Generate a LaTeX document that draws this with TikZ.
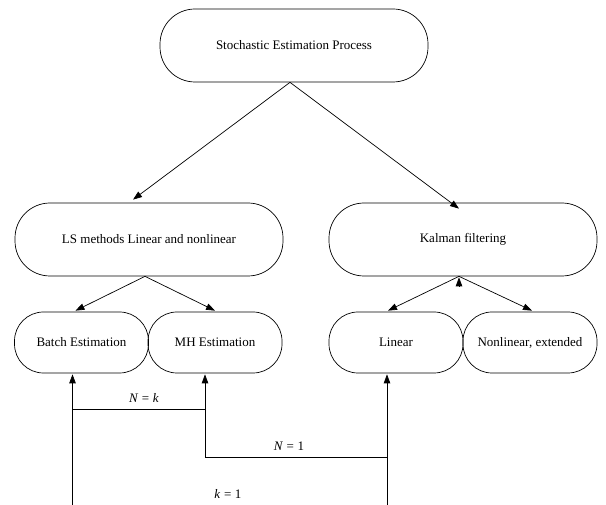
\documentclass[tikz,border=0pt]{standalone}
\usepackage{fontspec}
\setmainfont{Liberation Serif}
\usetikzlibrary{arrows.meta,calc}
\begin{document}
\begin{tikzpicture}[x=1pt,y=-1pt,
  bigbox/.style={draw,line width=0.7pt,rounded corners=35pt,minimum width=268pt,minimum height=73pt,inner sep=0pt,font=\fontsize{13}{15}\selectfont},
  smallbox/.style={draw,line width=0.7pt,rounded corners=29pt,minimum width=134pt,minimum height=61pt,inner sep=0pt,font=\fontsize{13}{15}\selectfont},
  arr/.style={line width=0.7pt,-{Triangle[length=9pt,width=6.5pt]}},
  ln/.style={line width=0.7pt},
  lbl/.style={inner sep=0pt,font=\fontsize{13}{15}\selectfont}]
\useasboundingbox (0,0) rectangle (606,505);
\node[bigbox] (top) at (294,45.5) {Stochastic Estimation Process};
\node[bigbox] (ls) at (149,239.5) {LS methods Linear and nonlinear};
\node[bigbox] (kal) at (463,239.5) {Kalman filtering};
\node[smallbox] (batch) at (81.5,342.5) {Batch Estimation};
\node[smallbox] (mh) at (215,342.5) {MH Estimation};
\node[smallbox] (lin) at (396,342.5) {Linear};
\node[smallbox] (nl) at (530,342.5) {Nonlinear, extended};
% top arrows
\draw[arr] ($(top.south)+(-4,0)$) -- ($(ls.north)+(-16,-3)$);
\draw[arr] ($(top.south)+(-4,0)$) -- ($(kal.north)+(-4,6)$);
% LS arrows
\draw[arr] ($(ls.south)+(-4,0)$) -- ($(batch.north)+(-6,-1)$);
\draw[arr] ($(ls.south)+(-4,0)$) -- ($(mh.north)+(0,-1)$);
% Kalman arrows
\draw[arr] ($(kal.south)+(-4,0)$) -- ($(lin.north)+(-8,-1)$);
\draw[arr] ($(kal.south)+(-4,0)$) -- ($(nl.north)+(2,-1)$);
\draw[arr] ($(kal.south)+(-4,10)$) -- ($(kal.south)+(-4,1)$);
% bottom connectors
\coordinate (bB) at (72.5,505);
\coordinate (lB) at (387,505);
\coordinate (nkL) at (72.5,409);
\coordinate (nkR) at (205,409);
\coordinate (n1L) at (205,457);
\coordinate (n1R) at (387,457);
\draw[arr] (bB) -- ($(batch.south -| bB)+(0,1)$);
\draw[arr] (lB) -- ($(lin.south -| lB)+(0,1)$);
\draw[arr] (n1L) -- ($(mh.south -| n1L)+(0,1)$);
\draw[ln] (nkL) -- (nkR);
\draw[ln] (n1L) -- (n1R);
\node[lbl] (lnk) at (144,398) {\textit{N}\;=\;\textit{k}};
\node[lbl] (ln1) at (289,446) {\textit{N}\;=\;1};
\node[lbl] (lk1) at (228,494) {\textit{k}\;=\;1};
\end{tikzpicture}
\end{document}
